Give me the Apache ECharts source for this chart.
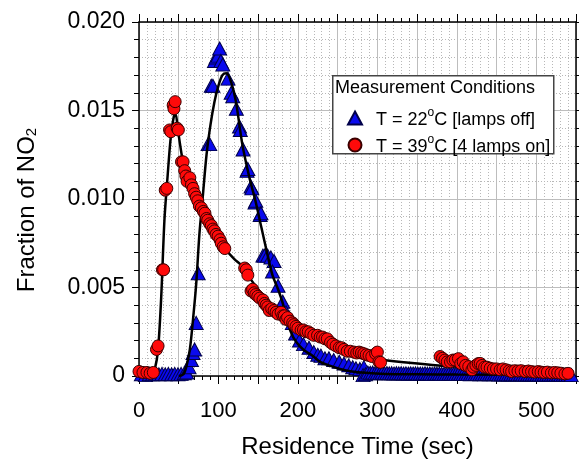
<!DOCTYPE html>
<html>
<head>
<meta charset="utf-8">
<script src="https://cdn.jsdelivr.net/npm/echarts@6/dist/echarts.min.js"></script>
<style>
html,body{margin:0;padding:0;background:#fff;}
#chart{width:579px;height:464px;}
</style>
</head>
<body>
<div id="chart"></div>
<script>
// ---- Data ----
var xTicks = [0, 100, 200, 300, 400, 500];
var yTicks = [0, 0.005, 0.010, 0.015, 0.020];
var seriesNames = ['T = 22°C [lamps off]', 'T = 39°C [4 lamps on]'];

// Blue triangles: T = 22 C [lamps off]
var blueRise = [[3,0.0001],[8,0.00005],[13,0.0001],[17,0.0001],[21,0.00012],[25,0.0001],[29,0.00012],[33,0.0001],[37,0.00012],[41,0.0001],[45,0.00012],[49,0.0001],[53,0.00012],[57,0.00015],
[60,0.0002],[63,0.0005],[66,0.0009],[68,0.0013],[70,0.0015],[72,0.0030],[74.5,0.0058],[87,0.0131],[89,0.0131],[91,0.0164],[93,0.0164],[95,0.0178],[97,0.0180],[99.5,0.0181],[101.5,0.0185],[103,0.0178],[105.5,0.0176]];
var blueFall = [[112,0.0168],[116,0.0160],[118,0.0158],[122.5,0.0151],[126.5,0.0141],[127.5,0.0139],[131,0.0128],[136,0.0116],[137,0.0117],[141,0.0107],[142,0.0106],[146,0.0098],[147,0.0099],[152.5,0.0091],[153.5,0.0092],[156,0.0068],[158,0.0068],[162,0.0068],[166,0.0067],[170,0.0065],[168,0.0059],[175,0.0051],[181,0.0042],[185,0.0036],[189,0.0033],[193,0.0030],
[197,0.0024],[202,0.0020],[207,0.0018],[214,0.0016],[220,0.00135],[225,0.0012],[229,0.00115],[234,0.0010],[239,0.0010],[245,0.0009],[252,0.0008],[258,0.0007],[264,0.0006],[269,0.0005],[273,0.00044],[278,0.0004],[283,0.0005],[282,0.00005],[285,0.0001]];
var blueTail = [[288,0.0002],[291,0.00018],[294,0.0002],[297,0.00015],[300,0.00018],[303,0.00016],[306,0.00018],[309,0.00015],[312,0.00017],[315,0.00015],[318,0.00016],[321,0.00014],[324,0.00016],[327,0.00015],[330,0.00016],[333,0.00014],[336,0.00015],[339,0.00013],[342,0.00015],[345,0.00014],[348,0.00015],[351,0.00013],[354,0.00014],[357,0.00013],[360,0.00015],[363,0.00013],[366,0.00014],[369,0.00012],[372,0.00014],[375,0.00013],[378,0.00014],[381,0.00012],[384,0.00013],[387,0.00012],[390,0.00013],[393,0.00011],[396,0.00013],[399,0.00012],[402,0.00013],[405,0.00011],[408,0.00012],[411,0.00011],[414,0.00012],[417,0.0001],[420,0.00012],[423,0.00011],[426,0.00012],[429,0.0001],[432,0.00011],[435,0.0001],[438,0.00011],[441,0.0001],[444,0.00011],[447,0.0001],[450,0.00011],[453,0.00009],[456,0.0001],[459,0.00009],[462,0.0001],[465,0.00009],[468,0.0001],[471,0.00008],[474,0.0001],[477,0.00009],[480,0.0001],[483,0.00008],[486,0.00009],[489,0.00008],[492,0.00009],[495,0.00008],[498,0.00009],[501,0.00008],[504,0.00009],[507,0.00007],[510,0.00008],[513,0.00007],[516,0.00008],[519,0.00007],[522,0.00008],[525,0.00007],[528,0.00008],[531,0.00006],[534,0.00007],[537,0.00006],[540,0.00007],[544,0.00005]];

// Red circles: T = 39 C [4 lamps on]
var redRise = [[0,0.00026],[5,0.0002],[10,0.0002],[14,0.00015],[18,0.0002],[22,0.0015],[24,0.0017],[29.5,0.0060],[31,0.0060],[33,0.0105],[35,0.0106],[38.5,0.0139],[40,0.0138],[43,0.0153],[44,0.0151],[45.5,0.0155]];
var redFall = [[48,0.0140],[49.5,0.0139],[53.5,0.0121],[55.5,0.0121],[57.5,0.0116],[59,0.0113],[60.5,0.0110],[64,0.0112],[66,0.0108],[68,0.0106],[70,0.0103],[72,0.0101],[74,0.0099],[76,0.0096],[78.5,0.0095],[81,0.0093],[83,0.0092],[85,0.0089],[86.5,0.0088],[89,0.0086],[91,0.0085],[93,0.0083],[95,0.0082],[97,0.0080],[99.5,0.0079],[102,0.0077],[103.5,0.0075],[106,0.0073],[108,0.0072],
[133,0.0061],[135,0.0060],[137,0.0057],[141,0.0048],[143,0.0049],[145,0.0047],[147,0.0046],[149.5,0.0045],[152,0.0044],[156,0.0043],[158,0.0041],[160,0.0040],[162,0.0039],[164,0.0037],[167,0.0038],[170,0.0037],[172.5,0.0036],[175,0.0035],[178.8,0.0036],[181,0.0034],[183,0.0034],[185,0.0032],[187,0.0033],[190,0.0031],[193.4,0.0030],[195,0.0029],[197.6,0.0028],[200,0.0027],[204,0.0026],[207,0.0026],[210,0.0025],[213,0.0025],[216.4,0.0024],[220,0.0023],[224.7,0.0023],[228,0.0022],[231,0.0022],[234,0.0021],[237,0.0021],[241,0.0019],[244,0.0018],[248,0.0017],[252,0.0016],[255,0.0016],[258,0.0015],[262,0.0014],[266,0.0014],[270.7,0.00135],[274,0.0013],[277,0.00135],[280,0.0013],[283,0.00126],[286,0.0012],[289.5,0.00116],[293,0.0011],[297.8,0.00126],[300,0.00135],[302,0.0008],[304,0.00077]];
var redTail = [[379,0.0011],[382,0.0010],[385,0.0009],[388,0.0008],[392,0.0008],[395,0.0009],[398,0.0009],[402,0.00098],[405,0.0007],[408,0.0008],[411,0.0006],[415,0.00053],[419,0.00035],[421,0.0005],[424,0.0006],[427,0.0007],[429.4,0.00071],[432,0.0006],[435,0.0005],[438,0.0005],[442,0.00044],[446,0.0004],[450,0.0004],[454.5,0.00035],[458,0.0004],[462,0.00035],[466,0.0003],[469,0.00025],[473,0.0003],[477,0.00028],[481,0.0003],[486,0.00025],[490,0.00028],[494,0.00025],[498,0.00022],[502.5,0.00025],[506,0.00022],[510,0.0002],[514,0.00022],[519,0.00018],[523,0.0002],[527,0.00018],[531,0.00016],[536,0.00012],[540,0.00015]];

// Fitted curves (black lines)
var blueFit = [[50,0],[56,0.0001],[60,0.0006],[64,0.0015],[68,0.0032],[72,0.0052],[76,0.0080],[80,0.0100],[85,0.0125],[90,0.0142],[95,0.0155],[100,0.0164],[105,0.0170],[110,0.0171],[116,0.0166],[122,0.0155],[130,0.0131],[139,0.0112],[146,0.0100],[154,0.0084],[162,0.0068],[168,0.0057],[175,0.0049],[181,0.0041],[187,0.0030],[194,0.0022],[202,0.0017],[210,0.00138],[218,0.00116],[228,0.0008],[239,0.0006],[253,0.0004],[268,0.00026],[285,0.00018],[310,0.00012],[350,0.0001],[400,0.00008],[545,0.00005]];
var redFit = [[0,0.00002],[10,0.00005],[16,0.0001],[20,0.0004],[24,0.0015],[28,0.0045],[32,0.0088],[36,0.0113],[40,0.0135],[44,0.0147],[46,0.0148],[49,0.0139],[53,0.0127],[57,0.0117],[62,0.0110],[70,0.0102],[80,0.0094],[90,0.0086],[100,0.0078],[110,0.0071],[120,0.0066],[130,0.0062],[140,0.0055],[150,0.0049],[160,0.0043],[172,0.0039],[185,0.0033],[198,0.0028],[210,0.0025],[223,0.0021],[240,0.0017],[256,0.00135],[280,0.0011],[306,0.00092],[340,0.00075],[377,0.0006],[420,0.00048],[480,0.00035],[545,0.00025]];

// ---- Chart ----
var chart = echarts.init(document.getElementById('chart'), null, {renderer: 'canvas'});
var FONT = 'Liberation Sans, Arial, sans-serif';
var gridMinor = {show: true, lineStyle: {color: '#b8b8b8', type: [1, 2], width: 1}};
var gridMajor = {show: true, lineStyle: {color: '#bdbdbd', type: 'solid', width: 1}};
var axisLineStyle = {show: true, onZero: false, lineStyle: {color: '#000', width: 1.5}};

function supText(name) {
  var parts = name.split('°');
  return '{t|' + parts[0] + '}{s|o}{t|' + parts[1] + '}';
}

var option = {
  animation: false,
  backgroundColor: '#fff',
  grid: {left: 139, right: 1, top: 22, bottom: 76, containLabel: false},
  xAxis: [{
    type: 'value', position: 'bottom', min: 0, max: 550, interval: 50,
    axisLine: axisLineStyle,
    axisTick: {show: true, inside: false, length: 8, lineStyle: {color: '#000', width: 1}},
    minorTick: {show: true, splitNumber: 5, length: 4, lineStyle: {color: '#000', width: 1}},
    axisLabel: {fontFamily: FONT, fontSize: 22, color: '#000', margin: 24,
      formatter: function (v) { return xTicks.indexOf(v) >= 0 ? String(v) : ''; }},
    splitLine: gridMajor, minorSplitLine: gridMinor,
    name: 'Residence Time (sec)', nameLocation: 'middle', nameGap: 59,
    nameTextStyle: {fontFamily: FONT, fontSize: 24, color: '#000'}
  }, {
    type: 'value', position: 'top', min: 0, max: 550, interval: 50,
    axisLine: axisLineStyle,
    axisTick: {show: true, inside: false, length: 8, lineStyle: {color: '#000', width: 1}},
    minorTick: {show: true, splitNumber: 5, length: 4, lineStyle: {color: '#000', width: 1}},
    axisLabel: {show: false}, splitLine: {show: false}
  }],
  yAxis: [{
    type: 'value', position: 'left', min: 0, max: 0.02, interval: 0.005,
    axisLine: axisLineStyle,
    axisTick: {show: true, inside: false, length: 7, lineStyle: {color: '#000', width: 1}},
    minorTick: {show: true, splitNumber: 5, length: 5, lineStyle: {color: '#000', width: 1}},
    axisLabel: {fontFamily: FONT, fontSize: 23, color: '#000', margin: 14,
      formatter: function (v) {
        for (var i = 0; i < yTicks.length; i++) {
          if (Math.abs(yTicks[i] - v) < 1e-9) return v === 0 ? '0' : yTicks[i].toFixed(3);
        }
        return '';
      }},
    splitLine: gridMajor, minorSplitLine: gridMinor
  }, {
    type: 'value', position: 'right', min: 0, max: 0.02, interval: 0.005,
    axisLine: axisLineStyle,
    axisTick: {show: true, inside: false, length: 7, lineStyle: {color: '#000', width: 1}},
    minorTick: {show: true, splitNumber: 5, length: 5, lineStyle: {color: '#000', width: 1}},
    axisLabel: {show: false}, splitLine: {show: false}
  }],
  legend: {
    show: true, orient: 'vertical', left: 342, top: 102, z: 200,
    data: seriesNames, itemWidth: 14, itemHeight: 13, itemGap: 5,
    selectedMode: false,
    formatter: supText,
    textStyle: {
      fontFamily: FONT, color: '#000', padding: [0, 0, 0, 9],
      rich: {
        t: {fontFamily: FONT, fontSize: 18, color: '#000', lineHeight: 22, verticalAlign: 'bottom'},
        s: {fontFamily: FONT, fontSize: 12, color: '#000', lineHeight: 12, verticalAlign: 'top'}
      }
    }
  },
  graphic: [
    {type: 'rect', left: 332, top: 75, z: 10,
      shape: {width: 221, height: 78},
      style: {fill: '#fff', stroke: '#444', lineWidth: 1.5}},
    {type: 'text', left: 335, top: 79, z: 100,
      style: {text: 'Measurement Conditions', font: '18px ' + FONT, fill: '#000'}},
    {type: 'text', x: 27, y: 210, rotation: Math.PI / 2, z: 100,
      style: {text: '{a|Fraction of NO}{b|2}', align: 'center', verticalAlign: 'middle',
        rich: {a: {fontFamily: FONT, fontSize: 24, color: '#000'},
               b: {fontFamily: FONT, fontSize: 15, color: '#000', verticalAlign: 'bottom', padding: [9, 0, 0, 0]}}}}
  ],
  series: [
    {name: seriesNames[0], type: 'scatter', data: blueRise.concat(blueFall, blueTail), z: 3,
      symbol: 'triangle', symbolSize: [14, 13],
      itemStyle: {color: '#0a0aee', borderColor: '#00004a', borderWidth: 1, opacity: 1}},
    {name: 'fit22', type: 'line', data: blueFit, z: 4, smooth: 0.3, showSymbol: false, symbol: 'none',
      lineStyle: {color: '#000', width: 2.5}},
    {name: 'fit39', type: 'line', data: redFit, z: 4, smooth: 0.3, showSymbol: false, symbol: 'none',
      lineStyle: {color: '#000', width: 2.5}},
    {name: seriesNames[1], type: 'scatter', data: redRise.concat(redFall, redTail), z: 5,
      symbol: 'circle', symbolSize: 12,
      itemStyle: {color: '#ff0a0a', borderColor: '#3a0000', borderWidth: 1, opacity: 1}}
  ]
};
chart.setOption(option);
</script>
</body>
</html>
